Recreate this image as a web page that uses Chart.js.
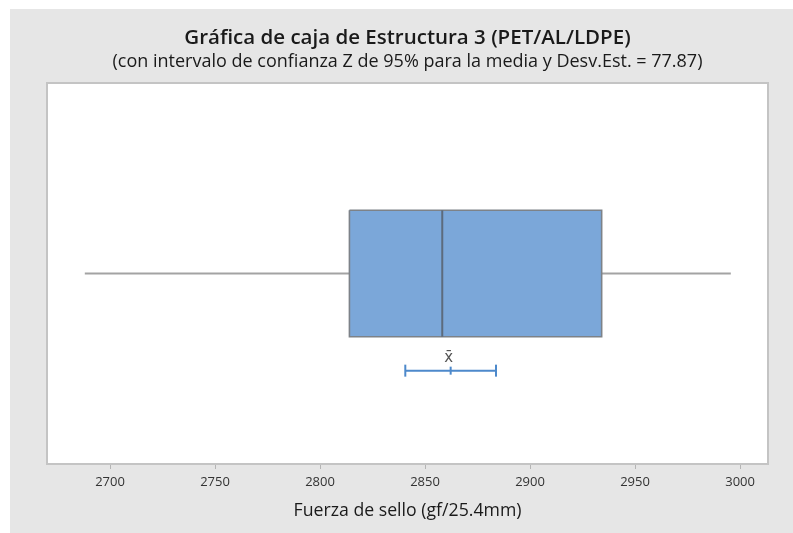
<!DOCTYPE html>
<html>
<head>
<meta charset="utf-8">
<script src="https://cdn.jsdelivr.net/npm/chart.js@4/dist/chart.umd.min.js"></script>
<style>
  html, body { margin: 0; padding: 0; background: #ffffff; }
  #wrap { width: 793px; height: 533px; }
</style>
</head>
<body>
<div id="wrap"><canvas id="chart" width="793" height="533"></canvas></div>
<script>
// Five-number summary of the seal strength sample (gf/25.4mm)
const whiskerLow = 2688;
const quartile1 = 2814;
const median = 2858.2;
const quartile3 = 2934.1;
const whiskerHigh = 2995.6;

// Mean and its 95% Z confidence interval
const meanValue = 2862.2;
const ciLow = 2840.6;
const ciHigh = 2883.8;

// Axis ticks
const tickValues = [2700, 2750, 2800, 2850, 2900, 2950, 3000];

// Texts
const titleText = 'Gráfica de caja de Estructura 3 (PET/AL/LDPE)';
const subtitleText = '(con intervalo de confianza Z de 95% para la media y Desv.Est. = 77.87)';
const axisTitle = 'Fuerza de sello (gf/25.4mm)';

// Vertical placement (0 = top of plot, 1 = bottom)
const boxCenter = 0.5;
const boxHalf = 0.166;
const ciRow = 0.755;

const FONT = "'Open Sans', 'Noto Sans', sans-serif";

const panelPlugin = {
  id: 'panel',
  beforeDraw(chart) {
    const { ctx, chartArea: a } = chart;
    ctx.save();
    ctx.fillStyle = '#ffffff';
    ctx.fillRect(0, 0, chart.width, chart.height);
    ctx.fillStyle = '#e6e6e6';
    ctx.fillRect(10, 9, chart.width - 10, chart.height - 9);
    ctx.fillStyle = '#ffffff';
    ctx.fillRect(a.left, a.top, a.right - a.left, a.bottom - a.top);
    ctx.restore();
  },
  afterDraw(chart) {
    const { ctx, chartArea: a } = chart;
    ctx.save();
    ctx.strokeStyle = '#c4c4c4';
    ctx.lineWidth = 2;
    ctx.strokeRect(a.left, a.top, a.right - a.left, a.bottom - a.top);
    ctx.restore();
  }
};

// Mean marker label (x-bar) above the confidence interval
const meanLabelPlugin = {
  id: 'meanLabel',
  afterDatasetsDraw(chart) {
    const { ctx, scales } = chart;
    const px = scales.x.getPixelForValue(meanValue);
    const py = scales.y.getPixelForValue(ciRow);
    ctx.save();
    ctx.fillStyle = '#555555';
    ctx.font = "15px 'DejaVu Sans', sans-serif";
    ctx.textAlign = 'center';
    ctx.textBaseline = 'middle';
    ctx.fillText('x\u0304', px - 2, py - 13);
    ctx.restore();
  }
};

const gray = '#a3a3a3';

// Lower `order` is painted on top
const datasets = [
  {
    // lower whisker
    data: [{ x: whiskerLow, y: boxCenter }, { x: quartile1, y: boxCenter }],
    borderColor: gray, borderWidth: 2, pointRadius: 0, showLine: true, order: 3
  },
  {
    // upper whisker
    data: [{ x: quartile3, y: boxCenter }, { x: whiskerHigh, y: boxCenter }],
    borderColor: gray, borderWidth: 2, pointRadius: 0, showLine: true, order: 3
  },
  {
    // interquartile box
    data: [
      { x: quartile1, y: boxCenter - boxHalf },
      { x: quartile3, y: boxCenter - boxHalf },
      { x: quartile3, y: boxCenter + boxHalf },
      { x: quartile1, y: boxCenter + boxHalf },
      { x: quartile1, y: boxCenter - boxHalf }
    ],
    borderColor: '#7d8288', borderWidth: 1.6, backgroundColor: '#7ba7d9',
    fill: 'shape', pointRadius: 0, showLine: true, tension: 0, order: 2
  },
  {
    // median line
    data: [{ x: median, y: boxCenter - boxHalf }, { x: median, y: boxCenter + boxHalf }],
    borderColor: '#5c6b7d', borderWidth: 2, pointRadius: 0, showLine: true, order: 1
  },
  {
    // confidence interval for the mean
    data: [{ x: ciLow, y: ciRow }, { x: meanValue, y: ciRow }, { x: ciHigh, y: ciRow }],
    borderColor: '#4d89cb', borderWidth: 2, showLine: true,
    pointStyle: 'line', rotation: 90, pointRadius: [6, 4, 6],
    pointBorderColor: '#4d89cb', pointBorderWidth: 2, order: 1
  }
];

new Chart(document.getElementById('chart'), {
  type: 'scatter',
  data: { datasets },
  options: {
    responsive: false,
    animation: false,
    events: [],
    layout: { padding: { left: 47, right: 25, top: 0, bottom: 0 } },
    plugins: {
      legend: { display: false },
      tooltip: { enabled: false },
      title: {
        display: true, text: titleText, color: '#1a1a1a',
        font: { family: FONT, size: 20.5, weight: '600' },
        padding: { top: 25.5, bottom: 1 }
      },
      subtitle: {
        display: true, text: subtitleText, color: '#1a1a1a',
        font: { family: FONT, size: 18, weight: '500' },
        padding: { top: 0, bottom: 10.3 }
      }
    },
    scales: {
      x: {
        type: 'linear', min: 2670, max: 3013.3,
        afterBuildTicks(scale) { scale.ticks = tickValues.map(v => ({ value: v })); },
        afterFit(scale) { scale.height = 69; },
        grid: { drawOnChartArea: false, drawTicks: true, tickLength: 5, color: '#b5b5b5' },
        border: { display: false },
        ticks: {
          callback: v => String(v), color: '#333333', padding: 5,
          font: { family: FONT, size: 13 }, maxRotation: 0, autoSkip: false
        },
        title: {
          display: true, text: axisTitle, color: '#1a1a1a',
          font: { family: FONT, size: 17.7, weight: '500' }, padding: { top: 0, bottom: 11.5 }
        }
      },
      y: { type: 'linear', min: 0, max: 1, reverse: true, display: false }
    }
  },
  plugins: [panelPlugin, meanLabelPlugin]
});
</script>
</body>
</html>
